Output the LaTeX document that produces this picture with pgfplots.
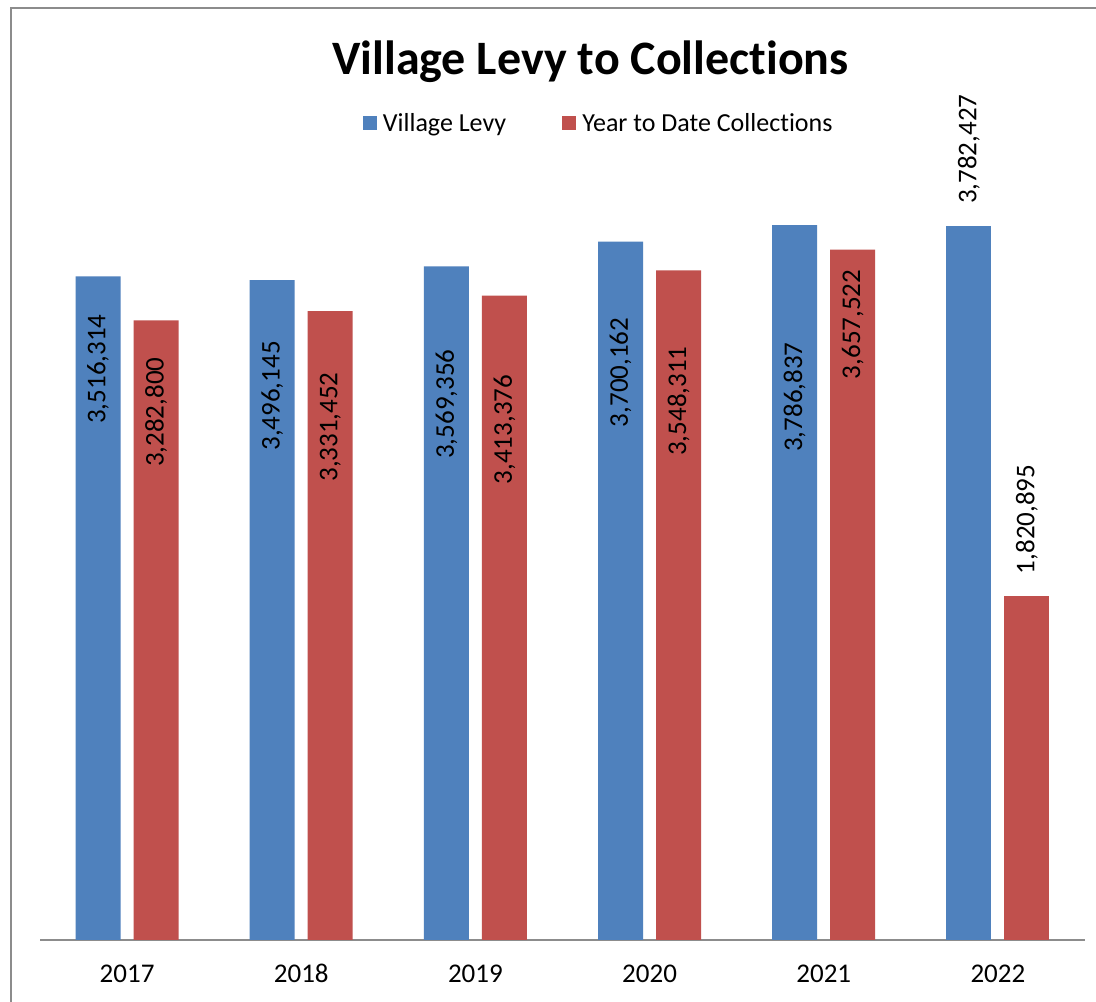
\documentclass[border=0pt]{standalone}
\usepackage{fontspec}
\setmainfont{Carlito}[Ligatures={NoCommon}]
\usepackage{pgfplots}
\pgfplotsset{compat=1.18}
\usepackage{pgfplotstable}
\definecolor{levy}{HTML}{4F81BD}
\definecolor{coll}{HTML}{C0504D}
\definecolor{frame}{HTML}{8C8C8C}

\pgfplotstableread{
x y lab off
0 3516314 3,516,314 38
1 3496145 3,496,145 61
2 3569356 3,569,356 83
3 3700162 3,700,162 76
4 3786837 3,786,837 117
}\levyin
\pgfplotstableread{
x y lab off
5 3782427 3,782,427 22
}\levyout
\pgfplotstableread{
x y lab off
0 3282800 3,282,800 37
1 3331452 3,331,452 61
2 3413376 3,413,376 79
3 3548311 3,548,311 76
4 3657522 3,657,522 20
}\collin
\pgfplotstableread{
x y lab off
5 1820895 1,820,895 22
}\collout

\begin{document}
\begin{tikzpicture}
\useasboundingbox (0pt,0pt) rectangle (1096pt,1002pt);
\fill[white] (0pt,0pt) rectangle (1096pt,1002pt);
\draw[frame, line width=1.5pt] (11pt,-5pt) -- (11pt,994pt) -- (1100pt,994pt);
\node[font=\fontsize{48}{56}\selectfont\bfseries, anchor=base] at (590.5pt,927pt) {Village Levy to Collections};
\begin{axis}[
  at={(40pt,62pt)}, anchor=south west,
  scale only axis, width=1045pt, height=755pt,
  xmin=-0.5, xmax=5.5, ymin=0, ymax=4000000,
  clip=false,
  ybar, bar width=45pt,
  axis y line=none,
  axis x line=bottom,
  x axis line style={draw=frame, -, line width=1.5pt},
  xtick={0,1,2,3,4,5},
  xticklabels={2017,2018,2019,2020,2021,2022},
  major tick length=0pt,
  xticklabel style={font=\fontsize{27}{32}\selectfont, anchor=base, yshift=-43pt},
  point meta=explicit symbolic,
  every node near coord/.append style={font=\fontsize{27}{32}\selectfont, text=black, inner sep=0pt, rotate=90},
  legend style={at={(axis description cs:0.309,1.0815)}, anchor=west, draw=none, fill=none,
    inner sep=0pt, outer sep=0pt, font=\fontsize{26}{31}\selectfont,
    legend columns=2,
    /tikz/every odd column/.append style={column sep=4pt},
    /tikz/every even column/.append style={column sep=54pt}},
  legend image code/.code={\fill[#1] (0pt,-7pt) rectangle (14pt,7pt);},
]
\addplot[fill=levy, draw=none, bar shift=-29pt, nodes near coords,
  visualization depends on={\thisrow{off} \as \myoff},
  every node near coord/.append style={anchor=east, xshift=-\myoff pt}]
  table[x=x, y=y, meta=lab] {\levyin};
\addlegendentry{Village Levy}
\addplot[fill=coll, draw=none, bar shift=29pt, nodes near coords,
  visualization depends on={\thisrow{off} \as \myoff},
  every node near coord/.append style={anchor=east, xshift=-\myoff pt}]
  table[x=x, y=y, meta=lab] {\collin};
\addlegendentry{Year to Date Collections}
\addplot[fill=levy, draw=none, bar shift=-29pt, nodes near coords, forget plot,
  every node near coord/.append style={anchor=west, xshift=22pt}]
  table[x=x, y=y, meta=lab] {\levyout};
\addplot[fill=coll, draw=none, bar shift=29pt, nodes near coords, forget plot,
  every node near coord/.append style={anchor=west, xshift=22pt}]
  table[x=x, y=y, meta=lab] {\collout};
\end{axis}
\end{tikzpicture}
\end{document}
